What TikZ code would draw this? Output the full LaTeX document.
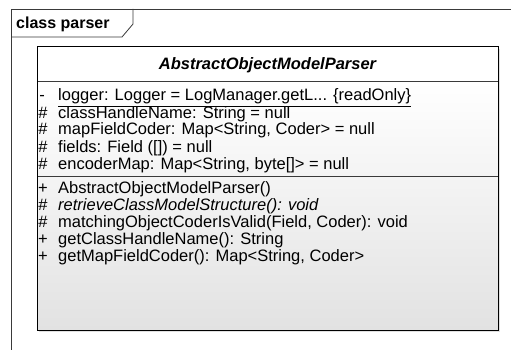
\documentclass[tikz,border=0pt]{standalone}
\usepackage{fontspec}
\setmainfont{Liberation Sans}
\definecolor{framegray}{HTML}{3A3A3A}
\definecolor{bodybot}{HTML}{E2E2E2}
\newcommand{\umlfont}{\fontsize{16.5}{17}\selectfont}
\begin{document}
\begin{tikzpicture}[x=1pt,y=-1pt,
  member/.style={anchor=base west,inner sep=0pt,font=\umlfont},
  vis/.style={anchor=base,inner sep=0pt,font=\umlfont},
  sepline/.style={draw=framegray,line width=0.9pt}]
\useasboundingbox (0,0) rectangle (511,350);
\fill[white] (0,0) rectangle (511,350);

% package frame with its name tab
\draw[framegray,line width=0.8pt] (511,9) -- (11,9) -- (11,350);
\draw[framegray,line width=0.8pt] (133,9) -- (133,24) -- (122,37) -- (11,37);
\node[anchor=base west,inner sep=0pt,font=\bfseries\fontsize{16}{17}\selectfont] (pkg) at (16,29) {class parser};

% class box: soft shadow, shaded body, white header
\fill[black!12] (39,49) rectangle (500,332);
\shade[top color=white,bottom color=bodybot] (37,81) rectangle (498,330);
\fill[white] (37,47) rectangle (498,81);
\draw[sepline] (37,81) -- (498,81);
\draw[sepline] (37,176) -- (498,176);
\draw[black,line width=1pt] (37,47) rectangle (498,330);

\node[anchor=base,inner sep=0pt,font=\bfseries\itshape\umlfont] (title) at (267.5,70) {AbstractObjectModelParser};

% attributes
\node[vis] (v1) at (42,101) {-};
\node[member] (a1) at (58,101) {\underline{logger: Logger = LogManager.getL... \{readOnly\}}};
\node[vis] (v2) at (43,118) {\#};
\node[member] (a2) at (58,118) {classHandleName: String = null};
\node[vis] (v3) at (43,135) {\#};
\node[member] (a3) at (58,135) {mapFieldCoder: Map<String, Coder> = null};
\node[vis] (v4) at (43,152) {\#};
\node[member] (a4) at (58,152) {fields: Field ([]) = null};
\node[vis] (v5) at (43,169) {\#};
\node[member] (a5) at (58,169) {encoderMap: Map<String, byte[]> = null};

% operations
\node[vis] (w1) at (43,193) {+};
\node[member] (m1) at (58,193) {AbstractObjectModelParser()};
\node[vis] (w2) at (43,210) {\#};
\node[member] (m2) at (58,210) {\itshape retrieveClassModelStructure(): void};
\node[vis] (w3) at (43,227) {\#};
\node[member] (m3) at (58,227) {matchingObjectCoderIsValid(Field, Coder): void};
\node[vis] (w4) at (43,244) {+};
\node[member] (m4) at (58,244) {getClassHandleName(): String};
\node[vis] (w5) at (43,261) {+};
\node[member] (m5) at (58,261) {getMapFieldCoder(): Map<String, Coder>};
\end{tikzpicture}
\end{document}
